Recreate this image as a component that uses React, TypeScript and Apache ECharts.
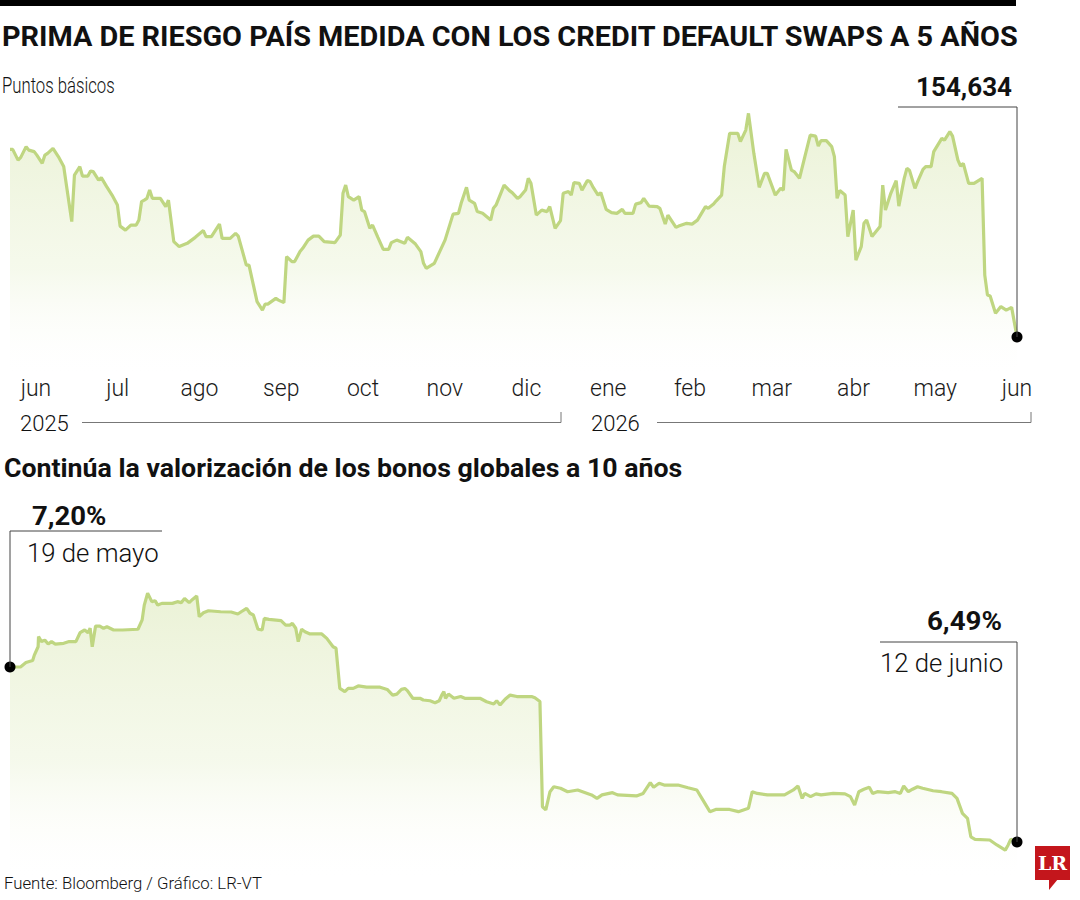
import React, { useEffect, useRef } from "react";
import * as echarts from "echarts";

const TITLE = "PRIMA DE RIESGO PAÍS MEDIDA CON LOS CREDIT DEFAULT SWAPS A 5 AÑOS";
const UNIT = "Puntos básicos";
const SUBTITLE = "Continúa la valorización de los bonos globales a 10 años";
const SOURCE = "Fuente: Bloomberg / Gráfico: LR-VT";
const MONTHS = ["jun", "jul", "ago", "sep", "oct", "nov", "dic", "ene", "feb", "mar", "abr", "may", "jun"];
const YEARS = ["2025", "2026"];
const CDS_LAST_LABEL = "154,634";
const BOND_START_LABEL = "7,20%";
const BOND_START_DATE = "19 de mayo";
const BOND_END_LABEL = "6,49%";
const BOND_END_DATE = "12 de junio";

// CDS 5 años: [día desde el inicio de la serie, puntos básicos]
const cdsSeries: [number, number][] = [
  [0, 229.7], [1, 229.7], [3, 225.4], [4, 226.5], [6, 230.8], [7, 229.4], [9, 228.8], [10, 227.4], [12, 224.1], [13, 227.4],
  [14, 228.1], [16, 230.1], [18, 226.8], [20, 222.8], [21, 215.4], [23, 200.8], [24, 219.4], [26, 222.8], [27, 219.0], [29, 219.0],
  [30, 221.0], [31, 220.8], [33, 217.4], [34, 218.4], [36, 214.8], [38, 211.4], [40, 207.4], [41, 199.0], [43, 197.4], [45, 199.4],
  [47, 199.4], [48, 201.4], [49, 208.8], [50, 209.4], [51, 210.1], [52, 213.4], [53, 210.1], [56, 210.1], [58, 206.8], [59, 209.4],
  [61, 192.8], [63, 190.8], [66, 192.1], [68, 193.7], [69, 194.5], [72, 197.2], [73, 194.8], [75, 194.8], [78, 199.8], [79, 194.1],
  [82, 194.1], [84, 196.1], [85, 195.0], [88, 183.4], [89, 183.4], [92, 168.8], [94, 165.4], [95, 167.8], [96, 167.8], [99, 170.1],
  [100, 169.4], [102, 168.4], [103, 186.8], [105, 184.8], [106, 184.8], [108, 188.8], [109, 190.1], [111, 193.4], [113, 195.0], [115, 195.0],
  [117, 192.8], [121, 192.4], [123, 195.4], [124, 212.1], [125, 215.4], [126, 210.8], [128, 209.4], [130, 210.8], [131, 205.4], [132, 204.8],
  [134, 198.1], [135, 199.4], [137, 194.5], [139, 189.7], [141, 189.7], [142, 192.4], [144, 193.4], [147, 192.1], [148, 194.5], [151, 191.8],
  [153, 188.8], [154, 184.1], [155, 182.1], [158, 184.1], [162, 193.4], [165, 203.8], [167, 204.1], [168, 208.1], [170, 214.5], [171, 209.4],
  [173, 208.1], [174, 204.8], [176, 204.1], [179, 201.4], [180, 206.1], [181, 207.4], [184, 215.4], [186, 213.2], [187, 212.4], [189, 210.1],
  [190, 210.8], [192, 213.4], [193, 218.1], [194, 216.1], [196, 203.4], [198, 205.4], [200, 204.8], [201, 206.8], [203, 198.1], [205, 201.2],
  [206, 212.1], [208, 212.8], [209, 211.4], [210, 216.4], [212, 216.1], [213, 213.4], [215, 217.2], [216, 216.8], [217, 214.8], [219, 211.4],
  [220, 212.4], [222, 205.7], [224, 204.4], [226, 204.1], [228, 205.7], [229, 204.1], [232, 204.1], [233, 207.8], [235, 208.4], [236, 210.1],
  [238, 207.0], [241, 206.8], [242, 206.1], [244, 199.8], [245, 203.4], [248, 198.5], [249, 199.0], [252, 200.1], [254, 199.8], [256, 201.4],
  [259, 206.8], [260, 206.1], [262, 207.8], [263, 209.1], [265, 211.4], [266, 222.8], [268, 236.1], [271, 236.1], [272, 232.8], [274, 237.4],
  [275, 244.1], [277, 228.1], [279, 214.5], [281, 220.1], [282, 220.1], [285, 211.4], [287, 214.1], [288, 213.4], [289, 229.7], [291, 221.4],
  [292, 220.8], [294, 218.1], [296, 226.8], [298, 235.4], [300, 235.0], [301, 231.0], [302, 233.2], [304, 233.2], [306, 230.8], [307, 226.8],
  [308, 210.1], [309, 213.2], [311, 211.4], [312, 194.8], [314, 205.4], [315, 185.4], [317, 190.8], [318, 200.1], [319, 201.4], [321, 194.8],
  [324, 198.8], [325, 215.4], [326, 205.4], [328, 212.1], [330, 217.2], [331, 207.0], [333, 218.1], [334, 222.1], [335, 221.2], [337, 214.1],
  [338, 216.8], [340, 221.7], [341, 222.8], [343, 222.8], [344, 228.8], [347, 234.1], [348, 233.4], [350, 236.8], [351, 235.0], [353, 225.4],
  [354, 223.0], [355, 224.1], [357, 216.1], [359, 216.1], [362, 218.1], [363, 179.4], [364, 171.4], [365, 171.0], [367, 164.1], [369, 166.8],
  [371, 165.4], [373, 166.5], [375, 154.634],
];

// Bonos globales a 10 años: [días desde el 19 de mayo, rendimiento %]
const bondSeries: [number, number][] = [
  [0, 7.2], [0.25, 7.2], [0.38, 7.218], [0.54, 7.226], [0.58, 7.248], [0.67, 7.282], [0.68, 7.323], [0.75, 7.303], [0.83, 7.309], [0.91, 7.293],
  [0.99, 7.303], [1.08, 7.293], [1.28, 7.296], [1.41, 7.303], [1.57, 7.303], [1.67, 7.339], [1.78, 7.35], [1.86, 7.339], [1.91, 7.357], [1.96, 7.282],
  [2.04, 7.366], [2.14, 7.366], [2.23, 7.357], [2.31, 7.363], [2.47, 7.35], [2.68, 7.35], [3.05, 7.353], [3.15, 7.391], [3.2, 7.451], [3.28, 7.499],
  [3.38, 7.465], [3.46, 7.469], [3.52, 7.451], [3.62, 7.458], [3.87, 7.458], [3.99, 7.465], [4.08, 7.461], [4.16, 7.478], [4.27, 7.461], [4.35, 7.474],
  [4.45, 7.488], [4.51, 7.404], [4.61, 7.42], [4.73, 7.428], [5.02, 7.424], [5.27, 7.423], [5.43, 7.415], [5.51, 7.424], [5.64, 7.438], [5.72, 7.418],
  [5.8, 7.411], [5.91, 7.353], [6.01, 7.35], [6.06, 7.397], [6.17, 7.393], [6.46, 7.388], [6.57, 7.37], [6.67, 7.37], [6.73, 7.377], [6.81, 7.357],
  [6.87, 7.303], [6.95, 7.353], [7.03, 7.343], [7.15, 7.334], [7.43, 7.334], [7.55, 7.316], [7.7, 7.282], [7.77, 7.276], [7.86, 7.113], [7.98, 7.1],
  [8.06, 7.113], [8.18, 7.113], [8.3, 7.123], [8.5, 7.118], [8.82, 7.118], [8.99, 7.109], [9.12, 7.086], [9.22, 7.09], [9.33, 7.109], [9.41, 7.113],
  [9.47, 7.104], [9.6, 7.073], [9.77, 7.073], [9.85, 7.066], [10.01, 7.063], [10.13, 7.055], [10.23, 7.063], [10.29, 7.086], [10.34, 7.1], [10.38, 7.073],
  [10.45, 7.09], [10.58, 7.073], [10.74, 7.08], [10.84, 7.073], [11.2, 7.073], [11.36, 7.059], [11.53, 7.05], [11.6, 7.063], [11.68, 7.046], [11.8, 7.069],
  [11.92, 7.086], [12.08, 7.08], [12.43, 7.08], [12.51, 7.075], [12.63, 7.06], [12.69, 6.633], [12.77, 6.62], [12.87, 6.694], [12.96, 6.714], [13.12, 6.708],
  [13.29, 6.694], [13.53, 6.701], [13.86, 6.681], [13.99, 6.667], [14.11, 6.681], [14.36, 6.69], [14.48, 6.681], [14.93, 6.677], [15.09, 6.687], [15.26, 6.731],
  [15.34, 6.712], [15.47, 6.728], [15.59, 6.721], [15.92, 6.721], [16.16, 6.71], [16.37, 6.701], [16.49, 6.667], [16.68, 6.613], [16.82, 6.622], [17.15, 6.622],
  [17.36, 6.613], [17.6, 6.627], [17.69, 6.694], [17.81, 6.687], [18.05, 6.681], [18.46, 6.681], [18.67, 6.701], [18.78, 6.717], [18.88, 6.667], [18.94, 6.687],
  [19.08, 6.674], [19.21, 6.685], [19.33, 6.681], [19.62, 6.687], [19.9, 6.685], [20.03, 6.674], [20.13, 6.64], [20.23, 6.694], [20.35, 6.704], [20.48, 6.712],
  [20.56, 6.687], [20.67, 6.694], [20.93, 6.69], [21.1, 6.694], [21.22, 6.687], [21.3, 6.717], [21.41, 6.694], [21.51, 6.704], [21.63, 6.714], [21.75, 6.708],
  [22.0, 6.698], [22.2, 6.694], [22.45, 6.687], [22.57, 6.667], [22.7, 6.606], [22.82, 6.586], [22.9, 6.511], [23.0, 6.501], [23.35, 6.498], [23.52, 6.478],
  [23.72, 6.457], [23.79, 6.478], [23.85, 6.501], [24.0, 6.49],
];

const LINE_COLOR = "#bfd681";
const FONT = "Roboto, 'Noto Sans', sans-serif";

function txt(text: string, x: number, y: number, o: any = {}) {
  return {
    type: "text",
    x,
    y,
    scaleX: o.scaleX ?? 1,
    z: 100,
    style: {
      text,
      x: 0,
      y: 0,
      fill: o.fill ?? "#111",
      fontSize: o.size ?? 22,
      fontWeight: o.weight ?? "normal",
      fontFamily: o.family ?? FONT,
      textAlign: o.align ?? "left",
      align: o.align ?? "left",
      textVerticalAlign: "middle",
      verticalAlign: "middle",
    },
  };
}

function areaGradient() {
  return new echarts.graphic.LinearGradient(0, 0, 0, 1, [
    { offset: 0, color: "rgba(198,218,140,0.5)" },
    { offset: 0.6, color: "rgba(210,228,165,0.3)" },
    { offset: 1, color: "rgba(255,255,255,0.05)" },
  ]);
}

export default function App() {
  const ref = useRef<HTMLDivElement>(null);
  useEffect(() => {
    const chart = echarts.init(ref.current!, null, { renderer: "svg" });
    const option: any = {
      animation: false,
      backgroundColor: "#fff",
      grid: [
        { left: 10, right: 63, top: 108.6, height: 265 },
        { left: 36, right: 63, top: 108.6, height: 265 },
        { left: 10, right: 63, top: 580.7, height: 295.8 },
      ],
      xAxis: [
        { type: "value", gridIndex: 0, min: 0, max: 375, show: false },
        {
          type: "category",
          gridIndex: 1,
          data: MONTHS,
          boundaryGap: false,
          axisLine: { show: false },
          axisTick: { show: false },
          splitLine: { show: false },
          axisLabel: {
            show: true,
            interval: 0,
            margin: 3,
            fontSize: 23,
            fontWeight: 300,
            fontFamily: FONT,
            color: "#1a1a1a",
            lineHeight: 23,
          },
        },
        { type: "value", gridIndex: 2, min: 0, max: 24, show: false },
      ],
      yAxis: [
        { type: "value", gridIndex: 0, min: 140, max: 246, show: false },
        { type: "value", gridIndex: 1, show: false },
        { type: "value", gridIndex: 2, min: 6.35, max: 7.55, show: false },
      ],
      series: [
        {
          type: "line",
          xAxisIndex: 0,
          yAxisIndex: 0,
          data: cdsSeries,
          showSymbol: false,
          lineStyle: { color: LINE_COLOR, width: 3.2 },
          areaStyle: { color: areaGradient(), origin: "start" },
          z: 2,
        },
        {
          type: "scatter",
          xAxisIndex: 0,
          yAxisIndex: 0,
          data: [cdsSeries[cdsSeries.length - 1]],
          symbolSize: 11,
          itemStyle: { color: "#000", opacity: 1 },
          z: 10,
        },
        {
          type: "line",
          xAxisIndex: 2,
          yAxisIndex: 2,
          data: bondSeries,
          showSymbol: false,
          lineStyle: { color: LINE_COLOR, width: 3.2 },
          areaStyle: { color: areaGradient(), origin: "start" },
          z: 2,
        },
        {
          type: "scatter",
          xAxisIndex: 2,
          yAxisIndex: 2,
          data: [bondSeries[0], bondSeries[bondSeries.length - 1]],
          symbolSize: 11,
          itemStyle: { color: "#000", opacity: 1 },
          z: 10,
        },
      ],
    };
    chart.setOption(option);

    const pC = chart.convertToPixel({ gridIndex: 0 }, cdsSeries[cdsSeries.length - 1]) as number[];
    const pB0 = chart.convertToPixel({ gridIndex: 2 }, bondSeries[0]) as number[];
    const pB1 = chart.convertToPixel({ gridIndex: 2 }, bondSeries[bondSeries.length - 1]) as number[];
    const leader = { stroke: "#444", lineWidth: 1, fill: null };

    const graphic: any[] = [
      { type: "rect", shape: { x: 0, y: 0, width: 1016, height: 6 }, style: { fill: "#000" }, z: 100 },
      txt(TITLE, 2, 37, { size: 28, weight: "bold", scaleX: 1.03 }),
      txt(UNIT, 2, 86, { size: 22, weight: 300, scaleX: 0.76 }),
      txt(CDS_LAST_LABEL, 1012, 87, { size: 25, weight: "bold", align: "right", scaleX: 1.04 }),
      { type: "polyline", shape: { points: [[898, 107], [pC[0], 107], [pC[0], pC[1]]] }, style: leader, z: 90 },
      txt(YEARS[0], 20, 423, { size: 22, weight: 300, scaleX: 1.0 }),
      txt(YEARS[1], 591, 423, { size: 22, weight: 300, scaleX: 1.0 }),
      { type: "polyline", shape: { points: [[82, 422.5], [561, 422.5], [561, 412]] }, style: { stroke: "#777", lineWidth: 1, fill: null }, z: 90 },
      { type: "polyline", shape: { points: [[657, 422.5], [1031, 422.5], [1031, 412]] }, style: { stroke: "#777", lineWidth: 1, fill: null }, z: 90 },
      txt(SUBTITLE, 4, 468, { size: 25, weight: "bold", scaleX: 1.068 }),
      txt(BOND_START_LABEL, 32, 516, { size: 25, weight: "bold", scaleX: 1.1 }),
      txt(BOND_START_DATE, 27, 553, { size: 25, weight: 300, scaleX: 1.03 }),
      { type: "polyline", shape: { points: [[162, 531], [pB0[0], 531], [pB0[0], pB0[1]]] }, style: leader, z: 90 },
      txt(BOND_END_LABEL, 1002, 621, { size: 25, weight: "bold", align: "right", scaleX: 1.11 }),
      txt(BOND_END_DATE, 880, 663, { size: 25, weight: 300, scaleX: 1.03 }),
      { type: "polyline", shape: { points: [[880, 642], [pB1[0], 642], [pB1[0], pB1[1]]] }, style: leader, z: 90 },
      txt(SOURCE, 4, 883, { size: 17, weight: 300, scaleX: 0.985 }),
      { type: "rect", shape: { x: 1035, y: 846, width: 35, height: 34 }, style: { fill: "#c4161c" }, z: 100 },
      { type: "polygon", shape: { points: [[1049, 879], [1058, 879], [1049, 890]] }, style: { fill: "#c4161c" }, z: 100 },
      txt("LR", 1052.5, 863, { size: 19, weight: "bold", align: "center", fill: "#fff", family: "'DejaVu Serif', 'Liberation Serif', serif", scaleX: 1 }),
    ];
    chart.setOption({ graphic });
    return () => chart.dispose();
  }, []);
  return (
    <div
      ref={ref}
      style={{ position: "absolute", left: 0, top: 0, width: 1080, height: 900, background: "#fff" }}
    />
  );
}
